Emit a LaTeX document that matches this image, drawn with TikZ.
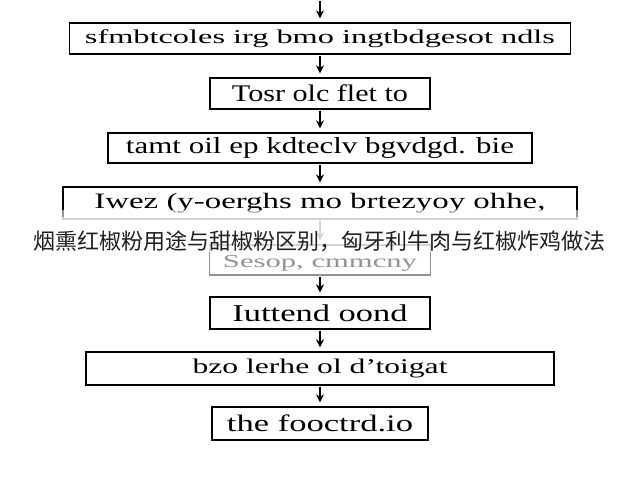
\documentclass[tikz,border=0pt]{standalone}
\usepackage{fontspec}
\setmainfont{Liberation Serif}
\newfontfamily\cjk{Noto Sans CJK SC}
\usetikzlibrary{arrows.meta}
\newcommand\fitbox[3]{\resizebox*{#1pt}{#2pt}{#3}}
\begin{document}
\begin{tikzpicture}[x=1pt,y=-1pt,
  flowbox/.style={draw=black, line width=1.3pt, inner sep=0pt, fill=white},
  arr/.style={line width=1.2pt, -{Stealth[length=8pt,width=8pt]}, shorten >=4pt, shorten <=1pt},
  caption/.style={font=\cjk\fontsize{22}{24}\selectfont, text=black!88, inner sep=0pt}]
\useasboundingbox[fill=white] (0,0) rectangle (640,480);
\coordinate (t0) at (320,0);
\node[flowbox, minimum width=501pt, minimum height=31pt] (b1) at (320,38.5)
  {\fitbox{470}{18}{sfmbtcoles irg bmo ingtbdgesot ndls}};
\node[flowbox, minimum width=220pt, minimum height=31pt] (b2) at (320,93.5)
  {\fitbox{176}{17}{Tosr olc flet to}};
\node[flowbox, minimum width=424pt, minimum height=30pt] (b3) at (320,148)
  {\fitbox{388}{21}{tamt oil ep kdteclv bgvdgd. bie}};
\node[flowbox, minimum width=514pt, minimum height=32pt] (b4) at (320,203)
  {\fitbox{451}{20}{Iwez (y-oerghs mo brtezyoy ohhe,}};
\node[flowbox, minimum width=221pt, minimum height=30pt, text height=15pt, text depth=0pt] (b5) at (320,260)
  {\fitbox{194}{16}{Sesop, cmmcny}};
\node[flowbox, minimum width=220pt, minimum height=32pt] (b6) at (320,313)
  {\fitbox{175}{17}{Iuttend oond}};
\node[flowbox, minimum width=468pt, minimum height=33pt] (b7) at (320,368.5)
  {\fitbox{255}{19}{bzo lerhe ol d'toigat}};
\node[flowbox, minimum width=216pt, minimum height=33pt] (b8) at (320,423.5)
  {\fitbox{186}{17}{the fooctrd.io}};
\draw[arr] (t0) -- (b1);
\draw[arr] (b1) -- (b2);
\draw[arr] (b2) -- (b3);
\draw[arr] (b3) -- (b4);
\draw[arr] (b4) -- (b5);
\draw[arr] (b5) -- (b6);
\draw[arr] (b6) -- (b7);
\draw[arr] (b7) -- (b8);
% washed-out band behind the caption
\fill[white, opacity=0.58] (0,210) rectangle (640,276);
\fill[white, opacity=0.6] (0,217) rectangle (640,252);
\node[caption] (cap) at (320,241) {烟熏红椒粉用途与甜椒粉区别，匈牙利牛肉与红椒炸鸡做法};
\end{tikzpicture}
\end{document}
